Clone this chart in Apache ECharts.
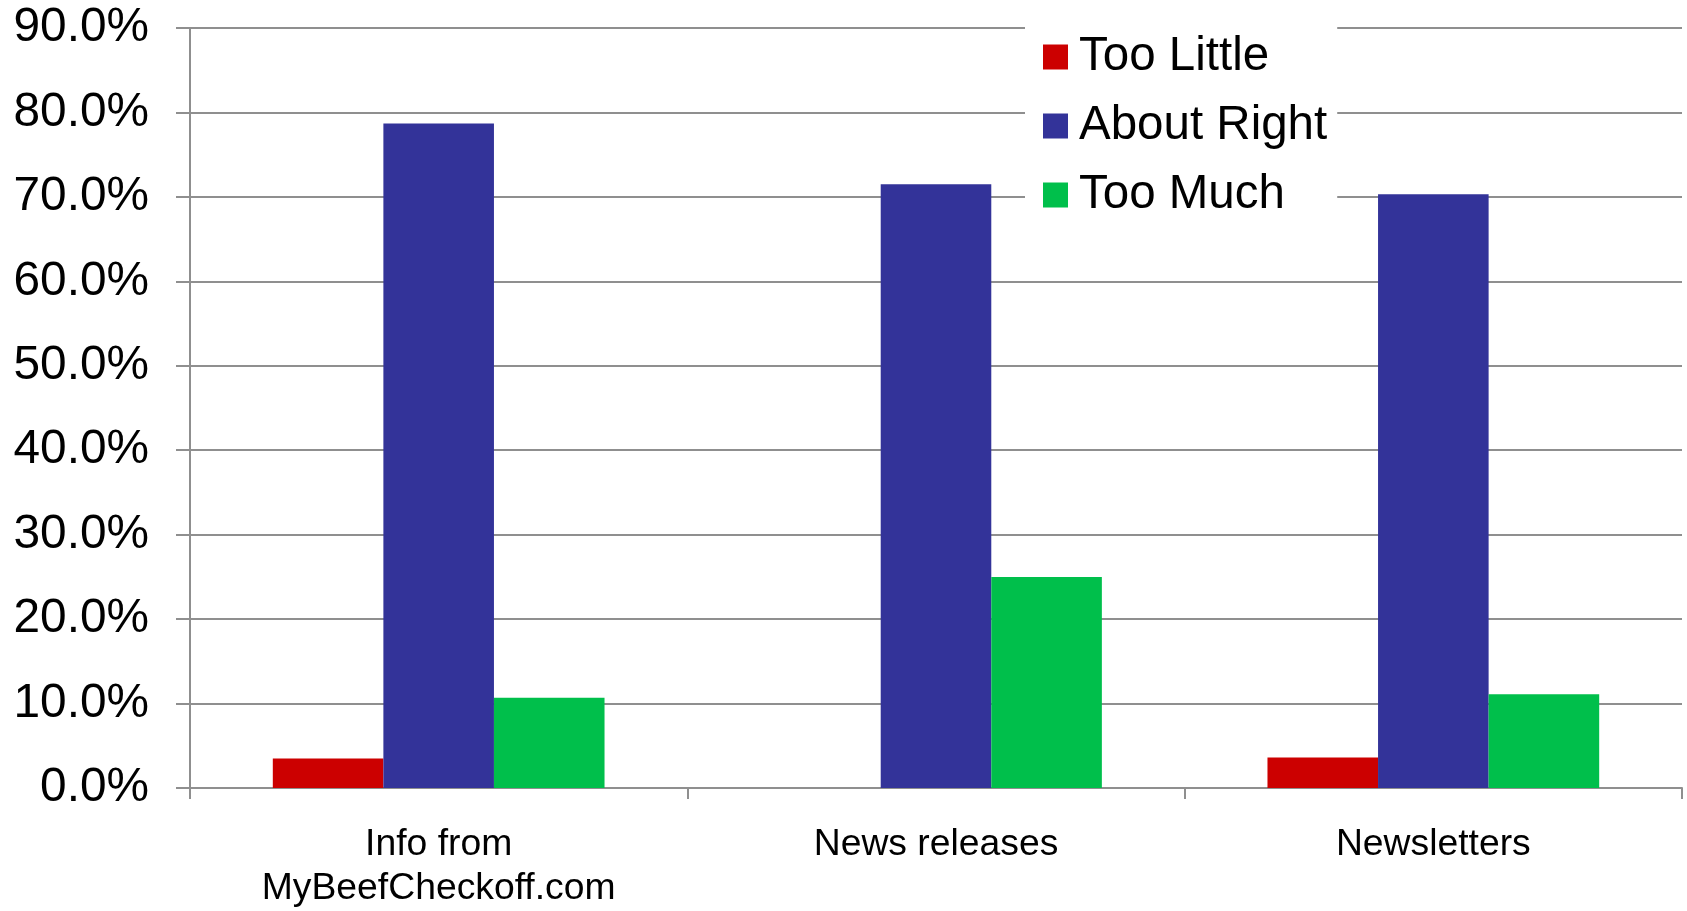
<!DOCTYPE html>
<html>
<head>
<meta charset="utf-8">
<title>Communication amount rating</title>
<script src="https://cdn.jsdelivr.net/npm/echarts@6/dist/echarts.min.js"></script>
<style>
  html, body { margin: 0; padding: 0; background: #fff; }
  #chart { width: 1687px; height: 911px; }
</style>
</head>
<body>
<div id="chart"></div>
<script>
// Categories and series values (percent of respondents)
const categories = ['Info from\nMyBeefCheckoff.com', 'News releases', 'Newsletters'];
const tooLittle  = [3.5, 0, 3.6];
const aboutRight = [78.7, 71.5, 70.3];
const tooMuch    = [10.7, 25.0, 11.1];

const seriesNames  = ['Too Little', 'About Right', 'Too Much'];
const seriesColors = ['#CC0000', '#333399', '#00BF4B'];

const gridGray = '#8f8f8f';
const font = '"Liberation Sans", Arial, sans-serif';

const chart = echarts.init(document.getElementById('chart'), null, { renderer: 'canvas' });

chart.setOption({
  animation: false,
  backgroundColor: '#ffffff',
  textStyle: { fontFamily: font, color: '#000' },
  grid: { left: 190, right: 5, top: 28, bottom: 121, containLabel: false },
  legend: {
    orient: 'vertical',
    left: 1025,
    top: 11,
    padding: [18, 10, 8, 18],
    backgroundColor: '#ffffff',
    itemWidth: 25,
    itemHeight: 25,
    itemGap: 13,
    icon: 'rect',
    data: seriesNames,
    textStyle: {
      fontFamily: font,
      fontSize: 47.5,
      lineHeight: 56,
      color: '#000',
      padding: [0, 0, 0, 6]
    }
  },
  xAxis: {
    type: 'category',
    data: categories,
    axisLine: { show: true, lineStyle: { color: gridGray, width: 2 } },
    axisTick: { show: true, length: 11, lineStyle: { color: gridGray, width: 2 } },
    axisLabel: {
      fontFamily: font,
      fontSize: 37.3,
      lineHeight: 44,
      color: '#000',
      margin: 35,
      interval: 0
    },
    splitLine: { show: false }
  },
  yAxis: {
    type: 'value',
    min: 0,
    max: 90,
    interval: 10,
    axisLine: { show: true, lineStyle: { color: gridGray, width: 2 } },
    axisTick: { show: true, length: 14, lineStyle: { color: gridGray, width: 2 } },
    axisLabel: {
      fontFamily: font,
      fontSize: 47.8,
      color: '#000',
      margin: 41,
      formatter: v => v.toFixed(1) + '%'
    },
    splitLine: { show: true, lineStyle: { color: gridGray, width: 2 } }
  },
  series: [
    { name: seriesNames[0], type: 'bar', data: tooLittle,  itemStyle: { color: seriesColors[0] }, barGap: '0%', barCategoryGap: '33.3%' },
    { name: seriesNames[1], type: 'bar', data: aboutRight, itemStyle: { color: seriesColors[1] }, barGap: '0%', barCategoryGap: '33.3%' },
    { name: seriesNames[2], type: 'bar', data: tooMuch,    itemStyle: { color: seriesColors[2] }, barGap: '0%', barCategoryGap: '33.3%' }
  ]
});
</script>
</body>
</html>
